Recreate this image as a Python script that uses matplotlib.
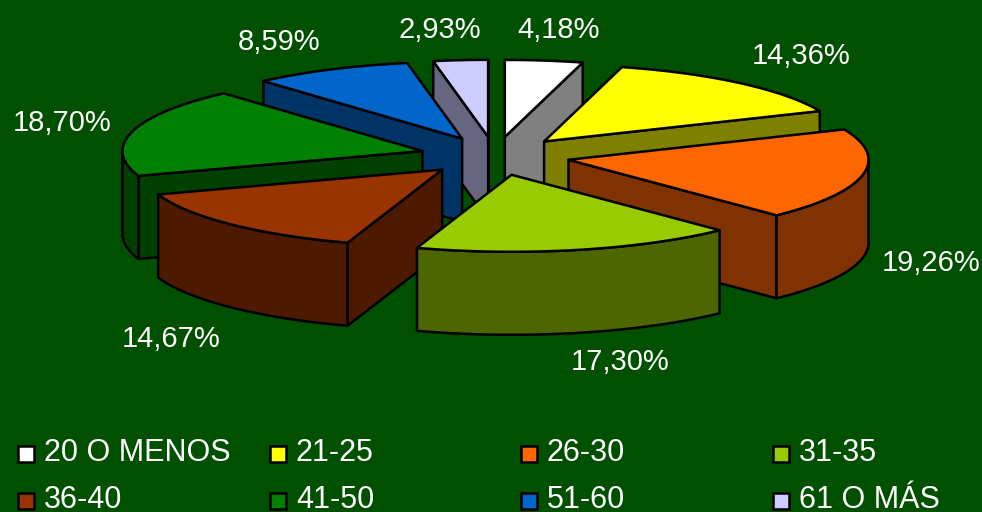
import numpy as np
import matplotlib
matplotlib.use("Agg")
import matplotlib.pyplot as plt
from matplotlib.patches import Polygon, Rectangle

plt.rcParams["font.family"] = ["Liberation Sans", "DejaVu Sans"]

categories = ["20 O MENOS", "21-25", "26-30", "31-35", "36-40", "41-50", "51-60", "61 O MÁS"]
values = [4.18, 14.36, 19.26, 17.30, 14.67, 18.70, 8.59, 2.93]
labels = ["4,18%", "14,36%", "19,26%", "17,30%", "14,67%", "18,70%", "8,59%", "2,93%"]
top_colors = ["#FFFFFF", "#FFFF00", "#FF6600", "#99CC00", "#993300", "#008000", "#0066CC", "#CCCCFF"]
side_colors = ["#808080", "#808000", "#803300", "#4D6600", "#4D1A00", "#004000", "#003366", "#666680"]
label_pos = [(559, 30), (801, 56), (931, 263), (620, 362), (171, 339), (62, 123), (279, 42), (440, 30)]
legend_x = [18, 270, 521, 773]
legend_y = [454, 501]
bg = "#005000"

# geometria del pastel en pixeles
cx, cy = 495, 156
rx, ry = 300, 77
depth = 83
explode = 0.25

fig = plt.figure(figsize=(9.82, 5.12), dpi=100, facecolor=bg)
ax = fig.add_axes([0, 0, 1, 1])
ax.set_xlim(0, 982)
ax.set_ylim(512, 0)
ax.axis("off")


def rim(t):
    # angulo en grados, horario desde arriba
    t = np.radians(t)
    return np.column_stack([rx * np.sin(t), -ry * np.cos(t)])


total = sum(values)
edges = np.concatenate([[0], np.cumsum(values) / total * 360])

slices = []
for i in range(len(values)):
    a0, a1 = edges[i], edges[i + 1]
    mid = (a0 + a1) / 2
    apex = np.array([cx, cy]) + explode * rim(mid)[0]
    slices.append((apex[1], i, a0, a1, apex))

down = np.array([0, depth])
# de atras hacia adelante
for _, i, a0, a1, apex in sorted(slices, key=lambda s: s[0]):
    arc = apex + rim(np.linspace(a0, a1, 80))
    style = dict(ec="black", lw=1.8, joinstyle="round")
    # solo las caras radiales que miran al frente
    if np.sin(np.radians(a0)) < 0:
        p = arc[0]
        ax.add_patch(Polygon([apex, p, p + down, apex + down], fc=side_colors[i], **style))
    if np.sin(np.radians(a1)) > 0:
        p = arc[-1]
        ax.add_patch(Polygon([apex, p, p + down, apex + down], fc=side_colors[i], **style))
    lo, hi = max(a0, 90), min(a1, 270)
    if lo < hi:
        wall = apex + rim(np.linspace(lo, hi, 80))
        ax.add_patch(Polygon(np.vstack([wall, (wall + down)[::-1]]), fc=side_colors[i], **style))
    ax.add_patch(Polygon(np.vstack([apex, arc]), fc=top_colors[i], **style))

for (x, y), s in zip(label_pos, labels):
    ax.text(x, y, s, color="white", fontsize=21, ha="center", va="center")

for i, name in enumerate(categories):
    x = legend_x[i % 4]
    y = legend_y[i // 4]
    ax.add_patch(Rectangle((x, y - 8), 16, 16, fc=top_colors[i], ec="black", lw=1.8))
    ax.text(x + 26, y - 1, name, color="white", fontsize=22, ha="left", va="center")

fig.savefig("out.png", dpi=100, facecolor=bg)
